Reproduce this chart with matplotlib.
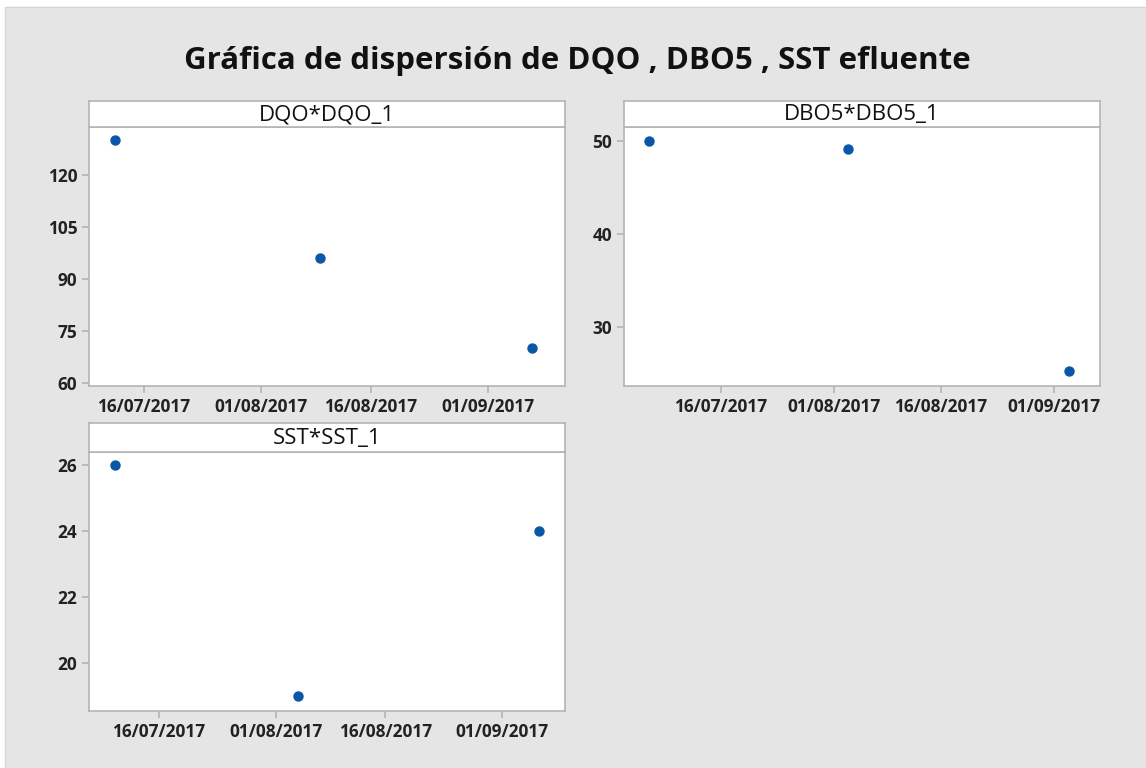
import datetime as dt
import matplotlib.pyplot as plt
import matplotlib.dates as mdates
from matplotlib.patches import Rectangle

plt.rcParams['font.family'] = ['Open Sans', 'DejaVu Sans']

# data
dqo_dates = [dt.date(2017, 7, 12), dt.date(2017, 8, 9), dt.date(2017, 9, 7)]
dqo_vals = [130, 96, 70]
dbo5_dates = [dt.date(2017, 7, 6), dt.date(2017, 8, 3), dt.date(2017, 9, 3)]
dbo5_vals = [50, 49.1, 25.3]
sst_dates = [dt.date(2017, 7, 10), dt.date(2017, 8, 4), dt.date(2017, 9, 6)]
sst_vals = [26, 19, 24]

tick_dates = [dt.date(2017, 7, 16), dt.date(2017, 8, 1), dt.date(2017, 8, 16), dt.date(2017, 9, 1)]

W, H = 1146, 768
fig = plt.figure(figsize=(W / 100, H / 100), dpi=100)
fig.patch.set_facecolor('white')
fig.patches.append(Rectangle((5 / W, 0), 1, 1 - 7 / H, transform=fig.transFigure,
                             facecolor='#e5e5e5', edgecolor='#d6d6d6', lw=1, zorder=-10))

fig.text(577 / W, 1 - 61 / H, 'Gráfica de dispersión de DQO , DBO5 , SST efluente',
         ha='center', va='center', fontsize=22.5, fontweight='bold', color='#111111')

blue = '#0a57a8'
edge = '#b4b4b4'


def panel(left, right, top, bottom, head, dates, vals, title, yticks, ylim, xlim):
    ax = fig.add_axes([left / W, 1 - bottom / H, (right - left) / W, (bottom - top) / H])
    ax.set_facecolor('white')
    ax.plot(dates, vals, 'o', color=blue, markersize=7.5, markeredgewidth=0)
    ax.set_ylim(*ylim)
    ax.set_yticks(yticks)
    ax.set_xlim(*xlim)
    ax.set_xticks(tick_dates)
    ax.xaxis.set_major_formatter(mdates.DateFormatter('%d/%m/%Y'))
    for s in ax.spines.values():
        s.set_color(edge)
        s.set_linewidth(1.2)
    ax.tick_params(colors=edge, labelcolor='#222222', length=5, width=1.2, labelsize=12.4)
    for lab in ax.get_xticklabels() + ax.get_yticklabels():
        lab.set_fontweight('bold')
    # header strip
    hx = fig.add_axes([left / W, 1 - top / H, (right - left) / W, (top - head) / H])
    hx.set_xticks([])
    hx.set_yticks([])
    hx.set_facecolor('white')
    for s in hx.spines.values():
        s.set_color(edge)
        s.set_linewidth(1.2)
    hx.text(0.5, 0.47, title, ha='center', va='center', fontsize=16,
            color='#111111', transform=hx.transAxes)
    return ax


panel(89, 565, 127, 386, 101, dqo_dates, dqo_vals, 'DQO*DQO_1',
      [60, 75, 90, 105, 120], (59.1, 133.8),
      (dt.datetime(2017, 7, 8, 12), dt.datetime(2017, 9, 11, 12)))
panel(624, 1100, 127, 386, 101, dbo5_dates, dbo5_vals, 'DBO5*DBO5_1',
      [30, 40, 50], (23.7, 51.5),
      (dt.datetime(2017, 7, 2, 10), dt.datetime(2017, 9, 7, 10)))
panel(89, 565, 452, 711, 423, sst_dates, sst_vals, 'SST*SST_1',
      [20, 22, 24, 26], (18.55, 26.4),
      (dt.datetime(2017, 7, 6, 10), dt.datetime(2017, 9, 9, 14)))

fig.savefig('out.png', dpi=100, facecolor=fig.get_facecolor())
